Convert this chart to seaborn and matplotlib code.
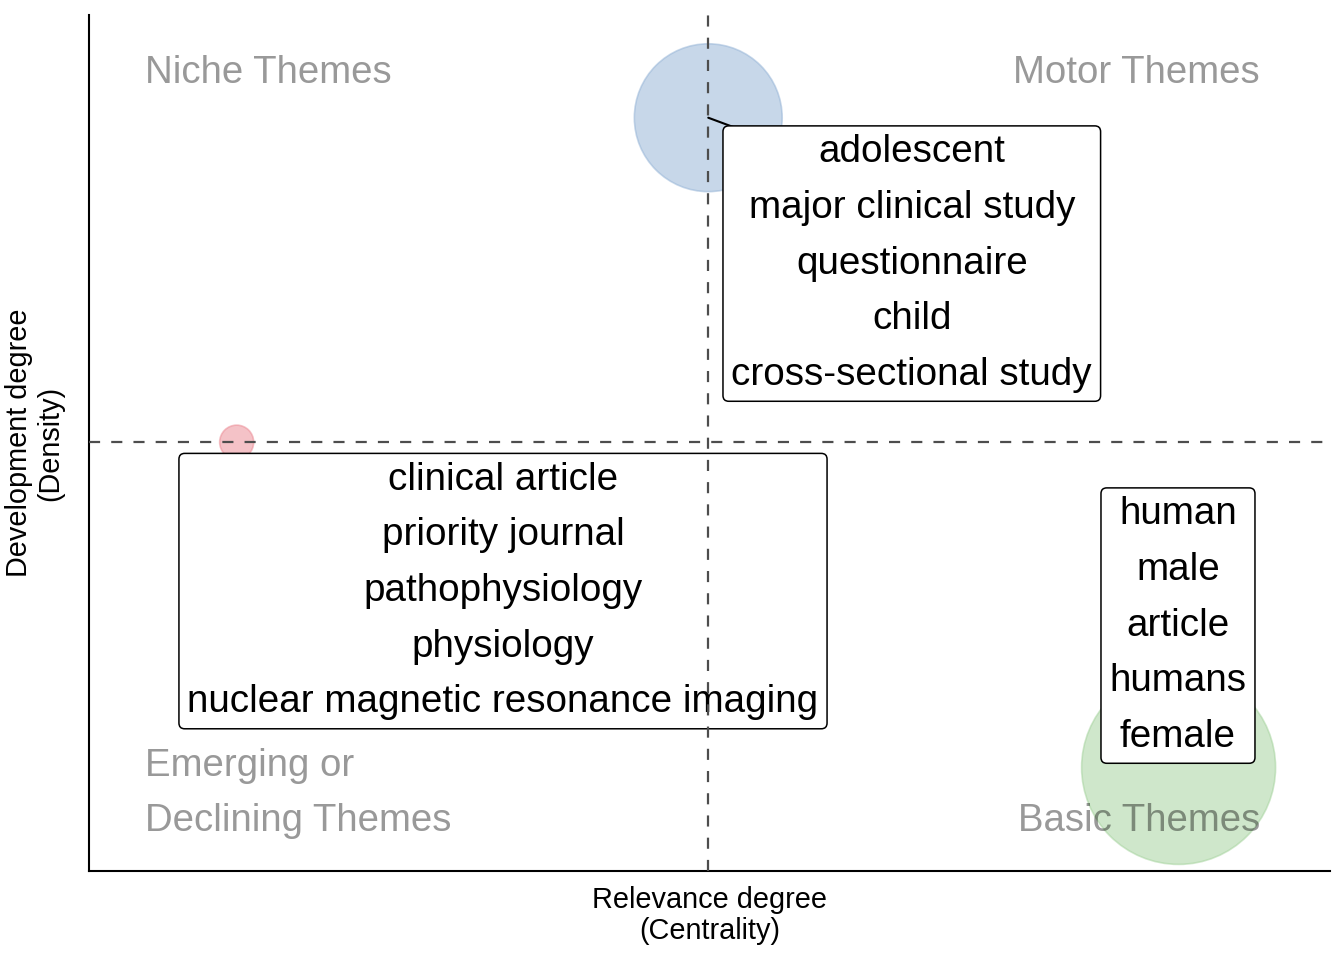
import pandas as pd
import matplotlib
matplotlib.use("Agg")
import matplotlib.pyplot as plt
import seaborn as sns
import numpy as np

# Thematic map data (normalised centrality / density)
clusters = ["clinical article", "adolescent", "human"]
centrality = [0.119, 0.499, 0.878]
density = [0.501, 0.880, 0.121]
freq = [12, 79, 130]
cluster_colors = ["#eb8791", "#91b1d5", "#a1d199"]
label_words = [
    ["clinical article", "priority journal", "pathophysiology",
     "physiology", "nuclear magnetic resonance imaging"],
    ["adolescent", "major clinical study", "questionnaire",
     "child", "cross-sectional study"],
    ["human", "male", "article", "humans", "female"],
]
label_x = [0.3336, 0.663, 0.8775]
label_y = [0.327, 0.7096, 0.2867]
show_segment = [False, True, False]

quadrants = ["Niche Themes", "Motor Themes", "Emerging or\nDeclining Themes", "Basic Themes"]

sns.set_style("white")
plt.rcParams["font.family"] = ["Liberation Sans", "DejaVu Sans"]
plt.rcParams["text.color"] = "black"
plt.rcParams["axes.labelcolor"] = "black"

df = pd.DataFrame({"cluster": clusters, "centrality": centrality,
                   "density": density, "freq": freq})

fig = plt.figure(figsize=(13.44, 9.6), dpi=100)
ax = fig.add_axes([89 / 1344, 89 / 960, (1330 - 89) / 1344, (871 - 15) / 960])

sns.scatterplot(data=df, x="centrality", y="density", hue="cluster",
                palette=dict(zip(clusters, cluster_colors)),
                size="freq", sizes=(600, 19500), alpha=0.5,
                edgecolor="face", linewidth=1.2, legend=False, ax=ax, zorder=1)

# cluster labels
for i, words in enumerate(label_words):
    txt = "\n".join(words)
    bbox = dict(boxstyle="round,pad=0.22,rounding_size=0.15", fc="white",
                ec="black", lw=1.1)
    if show_segment[i]:
        ax.annotate(txt, xy=(centrality[i], density[i]),
                    xytext=(label_x[i], label_y[i]),
                    ha="center", va="center", fontsize=27.8, linespacing=1.7,
                    bbox=bbox, zorder=2,
                    arrowprops=dict(arrowstyle="-", color="black", lw=1.5,
                                    shrinkA=0, shrinkB=0, patchA=None,
                                    relpos=(0.06, 1.0)))
    else:
        ax.text(label_x[i], label_y[i], txt, ha="center", va="center",
                fontsize=27.8, linespacing=1.7, bbox=bbox, zorder=2)

# mean lines
ax.axvline(np.mean(centrality), color="#4d4d4d", lw=1.6,
           linestyle=(0, (5, 5)), zorder=3)
ax.axhline(np.mean(density), color="#4d4d4d", lw=1.6,
           linestyle=(0, (5, 5)), zorder=3)

# quadrant names
qkw = dict(transform=ax.transAxes, fontsize=27.6, color="black", alpha=0.4,
           linespacing=1.7, zorder=4)
ax.text(0.045, 0.932, quadrants[0], ha="left", va="center", **qkw)
ax.text(0.9436, 0.932, quadrants[1], ha="right", va="center", **qkw)
ax.text(0.045, 0.0905, quadrants[2], ha="left", va="center", **qkw)
ax.text(0.9436, 0.058, quadrants[3], ha="right", va="center", **qkw)

ax.set_xlim(0, 1)
ax.set_ylim(0, 1)
ax.set_xticks([])
ax.set_yticks([])
ax.set_xlabel("Relevance degree\n(Centrality)", fontsize=20.8, labelpad=11,
              linespacing=1.14)
ax.set_ylabel("Development degree\n(Density)", fontsize=20.8, labelpad=18,
              linespacing=1.14)
for side in ["top", "right"]:
    ax.spines[side].set_visible(False)
for side in ["left", "bottom"]:
    ax.spines[side].set_color("black")
    ax.spines[side].set_linewidth(1.5)

fig.savefig("out.png", dpi=100, facecolor="white")
